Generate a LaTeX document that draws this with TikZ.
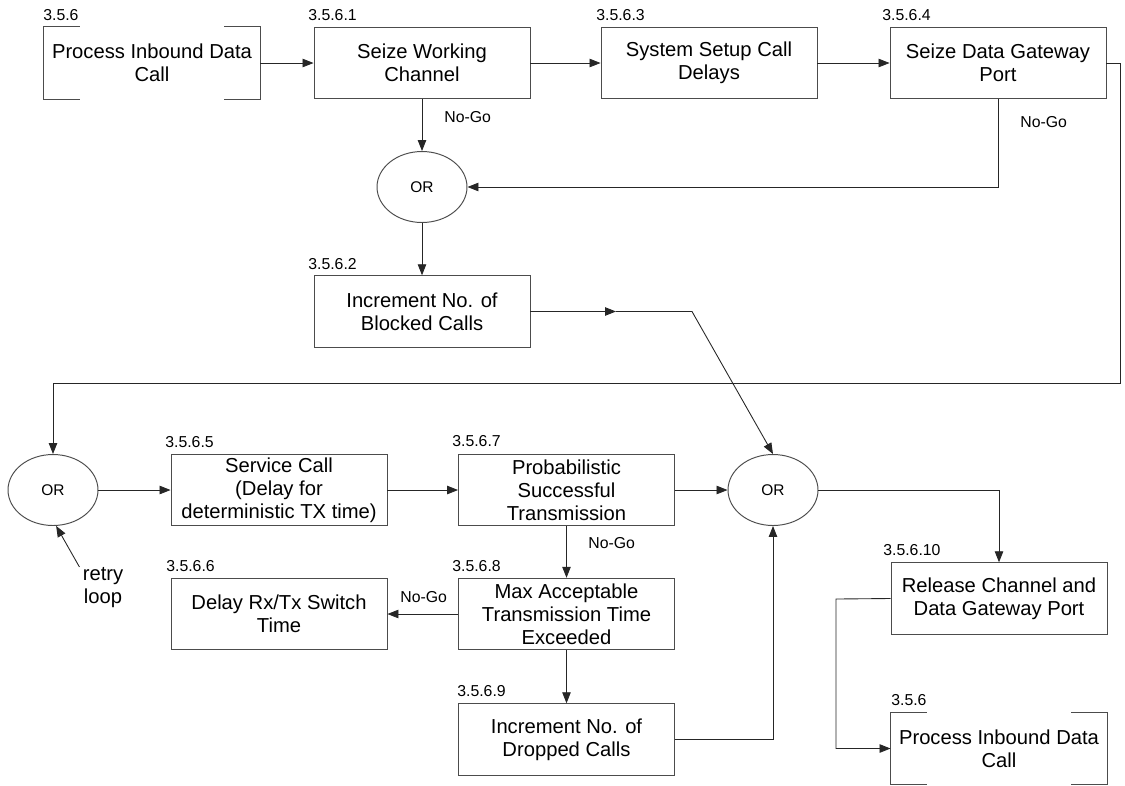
\documentclass[tikz,border=0pt]{standalone}
\usepackage{fontspec}
\setmainfont{Liberation Sans}
\usetikzlibrary{arrows.meta,shapes.geometric,calc}

\begin{document}
\begin{tikzpicture}[x=0.02cm,y=-0.02cm,
  every node/.style={inner sep=0pt},
  box/.style={draw=black!70, line width=0.55pt, minimum width=4.32cm,
    minimum height=1.43cm, align=center,
    font=\fontsize{11.5pt}{13pt}\selectfont},
  bbox/.style={box, draw=none},
  bracket/.style={draw=black!70, line width=0.55pt},
  gate/.style={ellipse, draw=black!70, line width=0.55pt, minimum width=1.8cm,
    minimum height=1.42cm, font=\fontsize{8.8pt}{10pt}\selectfont},
  num/.style={anchor=south west, font=\fontsize{9pt}{10pt}\selectfont},
  nogo/.style={anchor=west, font=\fontsize{9pt}{10pt}\selectfont},
  wire/.style={draw=black!85, line width=0.5pt},
  arr/.style={wire, -{Triangle[length=0.22cm,width=0.17cm]}},
]
\useasboundingbox (0,0) rectangle (1125,785);

% process boxes
\node[bbox] (A) at (152,63) {Process Inbound Data\\Call};
\node[box] (B) at (422,63) {Seize Working\\Channel};
\node[box] (C) at (709,63) {System Setup Call\\Delays};
\node[box] (D) at (998,63) {Seize Data Gateway\\Port};
\node[gate] (OR1) at (422,187) {OR};
\node[box] (E) at (422,311.5) {Increment No. of\\Blocked Calls};
\node[gate] (OR3) at (53,490) {OR};
\node[box] (F) at (279,490) {Service Call\\(Delay for\\deterministic TX time)};
\node[box] (G) at (566.5,490) {Probabilistic\\Successful\\Transmission};
\node[gate] (OR2) at (773,490) {OR};
\node[box] (R) at (279,614) {Delay Rx/Tx Switch\\Time};
\node[box] (H) at (566.5,614) {Max Acceptable\\Transmission Time\\Exceeded};
\node[box] (I) at (566.5,739.5) {Increment No. of\\Dropped Calls};
\node[box] (J) at (999,598.5) {Release Channel and\\Data Gateway Port};
\node[bbox] (K) at (999,748.5) {Process Inbound Data\\Call};

% bracket outlines of the external process references
\draw[bracket] ($(A.north west)+(36,0)$) -| (A.south west) -- ++(36,0);
\draw[bracket] ($(A.north east)+(-36,0)$) -| (A.south east) -- ++(-36,0);
\draw[bracket] ($(K.north west)+(36,0)$) -| (K.south west) -- ++(36,0);
\draw[bracket] ($(K.north east)+(-36,0)$) -| (K.south east) -- ++(-36,0);

% section numbers
\node[num] (nA) at (43,21) {3.5.6};
\node[num] (nB) at (308,21) {3.5.6.1};
\node[num] (nC) at (596,21) {3.5.6.3};
\node[num] (nD) at (882,21) {3.5.6.4};
\node[num] (nE) at (308,270) {3.5.6.2};
\node[num] (nF) at (165,448) {3.5.6.5};
\node[num] (nG) at (452,447) {3.5.6.7};
\node[num] (nR) at (166,572) {3.5.6.6};
\node[num] (nH) at (452,572) {3.5.6.8};
\node[num] (nI) at (457,697) {3.5.6.9};
\node[num] (nJ) at (883,556) {3.5.6.10};
\node[num] (nK) at (891,706) {3.5.6};

% branch labels
\node[nogo] (g1) at (444,117) {No-Go};
\node[nogo] (g2) at (1020,122) {No-Go};
\node[nogo] (g3) at (588,543) {No-Go};
\node[nogo] (g4) at (400,597) {No-Go};
\node[anchor=north, align=center, font=\fontsize{11.5pt}{13pt}\selectfont]
  (retry) at (103,567) {retry\\loop};

% routing points
\coordinate (e1) at (616,311.5);
\coordinate (e2) at (692,311.5);
\coordinate (d1) at (1120,63);
\coordinate (d2) at (1120,383);
\coordinate (j1) at (836,599);
\coordinate (rt) at ($(retry.north west)+(-3,0)$);

% connectors
\draw[arr] (A) -- (B);
\draw[arr] (B) -- (C);
\draw[arr] (C) -- (D);
\draw[arr] (B) -- (OR1);
\draw[arr] (D.south) |- (OR1.east);
\draw[arr] (OR1) -- (E);
\draw[arr] (E.east) -- (e1);
\draw[arr] (e1) -- (e2) -- (OR2.north);
\draw[wire] (D.east) -- (d1) -- (d2) -- (d2 -| OR3.north);
\draw[arr] (d2 -| OR3.north) -- (OR3.north);
\draw[arr] (OR3) -- (F);
\draw[arr] (F) -- (G);
\draw[arr] (G) -- (OR2);
\draw[arr] (G) -- (H);
\draw[arr] (H) -- (R);
\draw[arr] (H) -- (I);
\draw[arr] (I.east) -| (OR2.south);
\draw[arr] (OR2.east) -| (J.north);
\draw[arr] (J.west) -- (j1) |- (K.west);
\draw[arr] (rt) -- (OR3.275);
\end{tikzpicture}
\end{document}
